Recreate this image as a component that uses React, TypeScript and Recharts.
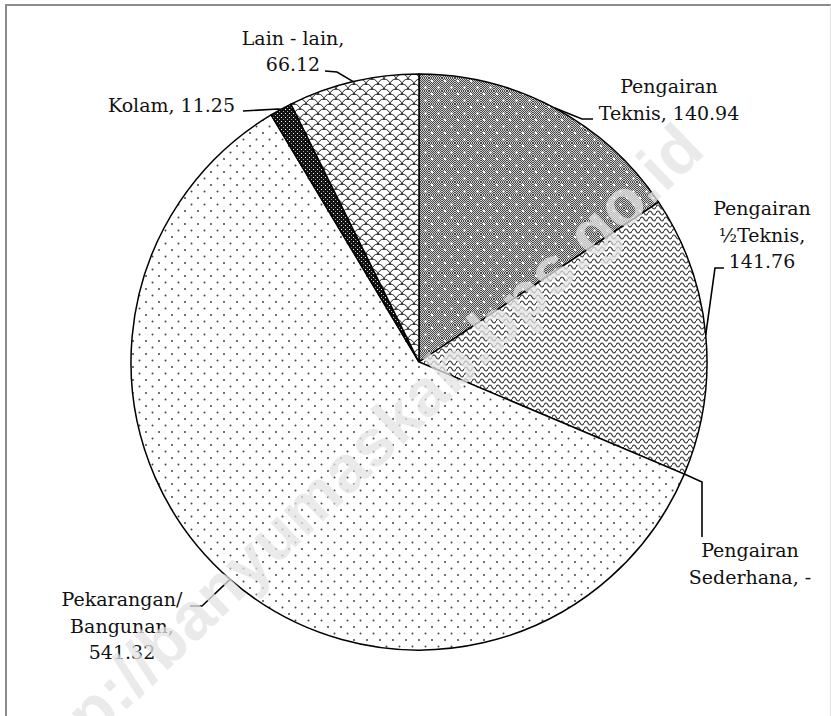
import React from 'react';
import { PieChart, Pie, Cell } from 'recharts';

// land use categories (hectares), clockwise from 12 o'clock
const names = [
  'Pengairan\nTeknis',
  'Pengairan\n½Teknis',
  'Pengairan\nSederhana',
  'Pekarangan/\nBangunan',
  'Kolam',
  'Lain - lain',
];
const values = [140.94, 141.76, 0, 541.32, 11.25, 66.12];
const fills = ['url(#pTeknis)', 'url(#pSetengah)', 'url(#pSederhana)', 'url(#pPekarangan)', 'url(#pKolam)', 'url(#pLain)'];

const CX = 419;
const CY = 362;
const R = 288;
const FONT = '"DejaVu Serif", serif';
const LINE_H = 26.5;

// label placement relative to the pie centre: elbow, leader end, text anchor
const labelLayout = [
  { elbow: [163, -243], end: [174, -243], text: [250, -269], anchor: 'middle', valueBreak: false },
  { elbow: [296, -94], end: [305, -94], text: [343, -147], anchor: 'middle', valueBreak: true },
  { elbow: [283, 120], end: [283, 175], text: [331, 195], anchor: 'middle', valueBreak: false },
  { elbow: [-217, 244], end: [-229, 244], text: [-297, 244], anchor: 'middle', valueBreak: true },
  { elbow: [-141, -253], end: [-176, -251], text: [-184, -250], anchor: 'end', valueBreak: false },
  { elbow: [-82, -290], end: [-94, -291], text: [-126, -317.5], anchor: 'middle', valueBreak: true },
];

const data = names.map((name, i) => ({ name, value: values[i] }));
const RAD = Math.PI / 180;

const renderLabel = (props: any) => {
  const { cx, cy, midAngle, outerRadius, index, value } = props;
  const lay = labelLayout[index];
  const sx = cx + outerRadius * Math.cos(-midAngle * RAD);
  const sy = cy + outerRadius * Math.sin(-midAngle * RAD);
  const valStr = value === 0 ? '-' : value.toFixed(2);
  const text = names[index] + ',' + (lay.valueBreak ? '\n' : ' ') + valStr;
  const lines = text.split('\n');
  return (
    <g key={'lbl' + index}>
      <polyline
        points={`${sx},${sy} ${cx + lay.elbow[0]},${cy + lay.elbow[1]} ${cx + lay.end[0]},${cy + lay.end[1]}`}
        fill="none"
        stroke="#000"
        strokeWidth={1.6}
      />
      <text
        x={cx + lay.text[0]}
        y={cy + lay.text[1]}
        textAnchor={lay.anchor}
        fontFamily={FONT}
        fontSize={19}
        fill="#111"
      >
        {lines.map((ln, k) => (
          <tspan key={k} x={cx + lay.text[0]} dy={k === 0 ? 0 : LINE_H}>
            {ln}
          </tspan>
        ))}
      </text>
    </g>
  );
};

const Patterns = () => (
  <svg width={0} height={0} style={{ position: 'absolute' }}>
    <defs>
      <pattern id="checker" width={2} height={2} patternUnits="userSpaceOnUse">
        <rect width={2} height={2} fill="#cdcdcd" />
        <rect width={1} height={1} fill="#4a4a4a" />
        <rect x={1} y={1} width={1} height={1} fill="#4a4a4a" />
      </pattern>
      <pattern id="pTeknis" width={13} height={13} patternUnits="userSpaceOnUse">
        <rect width={13} height={13} fill="url(#checker)" />
        <rect x={2} y={2} width={2} height={2} fill="#fff" />
        <rect x={8.5} y={8.5} width={2} height={2} fill="#fff" />
      </pattern>
      <pattern id="pSetengah" width={8} height={6} patternUnits="userSpaceOnUse">
        <rect width={8} height={6} fill="#fff" />
        <path d="M0 3 Q2 -1 4 3 T8 3" fill="none" stroke="#3a3a3a" strokeWidth={1.2} />
      </pattern>
      <pattern id="pSederhana" width={6} height={6} patternUnits="userSpaceOnUse">
        <rect width={6} height={6} fill="#fff" />
        <path d="M0 6 L6 0" stroke="#444" strokeWidth={1} />
      </pattern>
      <pattern id="pPekarangan" width={13} height={13} patternUnits="userSpaceOnUse">
        <rect width={13} height={13} fill="#fff" />
        <circle cx={3} cy={3} r={1} fill="#444" />
        <circle cx={9.5} cy={9.5} r={1} fill="#444" />
      </pattern>
      <pattern id="pKolam" width={4} height={4} patternUnits="userSpaceOnUse">
        <rect width={4} height={4} fill="#111" />
        <rect x={1} y={1} width={1} height={1} fill="#fff" />
        <rect x={3} y={3} width={1} height={1} fill="#aaa" />
      </pattern>
      <pattern id="pLain" width={12} height={10} patternUnits="userSpaceOnUse">
        <rect width={12} height={10} fill="#fff" />
        <path
          d="M0 10 A6 6 0 0 1 12 10 M-6 5 A6 6 0 0 1 6 5 M6 5 A6 6 0 0 1 18 5 M-6 15 A6 6 0 0 1 6 15 M6 15 A6 6 0 0 1 18 15"
          fill="none"
          stroke="#222"
          strokeWidth={1}
        />
      </pattern>
    </defs>
  </svg>
);

export default function App() {
  return (
    <div style={{ position: 'absolute', left: 0, top: 0, width: 831, height: 716, overflow: 'hidden', background: '#fff' }}>
      <Patterns />
      <div
        style={{
          position: 'absolute',
          left: 5,
          top: 4,
          width: 823,
          height: 760,
          borderTop: '2px solid #8c8c8c',
          borderLeft: '2px solid #8c8c8c',
          borderRight: '1px solid #e4e4e4',
        }}
      />
      <div style={{ position: 'absolute', left: 0, top: 0 }}>
        <PieChart width={831} height={716} margin={{ top: 0, right: 0, bottom: 0, left: 0 }}>
          <Pie
            data={data}
            dataKey="value"
            nameKey="name"
            cx={CX}
            cy={CY}
            outerRadius={R}
            startAngle={90}
            endAngle={-270}
            stroke="#000"
            strokeWidth={1.5}
            label={renderLabel}
            labelLine={false}
            isAnimationActive={false}
          >
            {data.map((d, i) => (
              <Cell key={d.name} fill={fills[i]} />
            ))}
          </Pie>
        </PieChart>
      </div>
      <svg width={831} height={716} style={{ position: 'absolute', left: 0, top: 0, pointerEvents: 'none' }}>
        <text
          x={32}
          y={800}
          transform="rotate(-43.8 32 800)"
          fontFamily='"Liberation Sans", Arial, sans-serif'
          fontWeight="bold"
          fontSize={66}
          fill="#e4e4e4"
          opacity={0.75}
        >
          http://banyumaskab.bps.go.id
        </text>
      </svg>
    </div>
  );
}
